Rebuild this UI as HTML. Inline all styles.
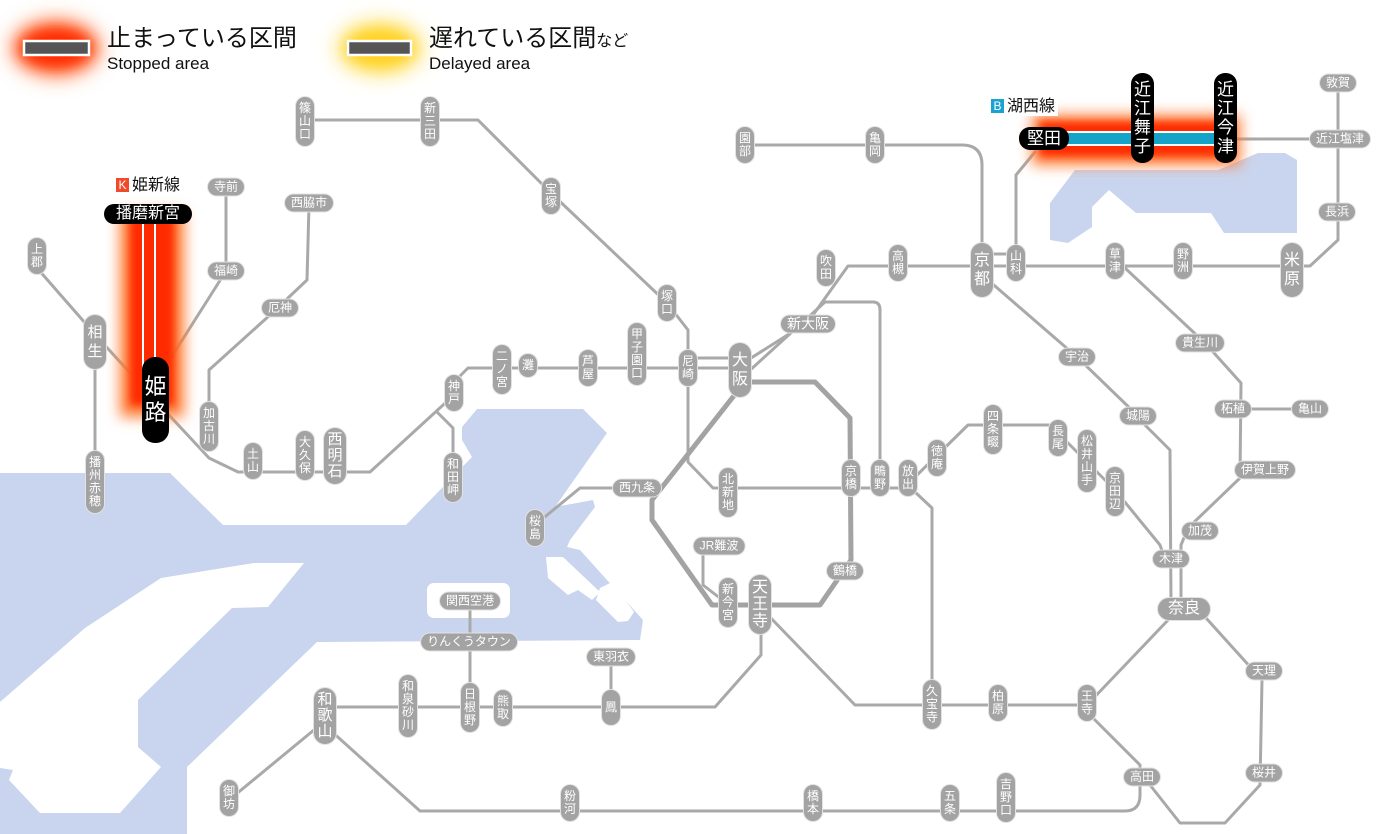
<!DOCTYPE html>
<html><head><meta charset="utf-8">
<style>
html,body{margin:0;padding:0;background:#fff;}
#w{position:relative;width:1400px;height:834px;overflow:hidden;background:#fff;font-family:"Liberation Sans","Noto Sans CJK JP",sans-serif;}
svg{position:absolute;left:0;top:0;}
.s{position:absolute;background:#a3a3a3;color:#fff;font-size:12px;line-height:13px;border-radius:9px;text-align:center;box-shadow:0 0 0 1px #e2e2e2;font-family:"Liberation Sans","Noto Sans CJK JP",sans-serif;}
.v{width:18px;padding:5px 0;transform:translateX(-50%);}
.h{height:17px;line-height:17px;padding:0 6px;transform:translate(-50%,-50%);white-space:nowrap;}
.b{font-size:16px;line-height:19px;width:22px;padding:8px 0;border-radius:11px;}
.hb{font-size:16px;height:22px;line-height:22px;padding:0 10px;border-radius:11px;}
.k{position:absolute;background:#000;color:#fff;font-family:"Liberation Sans","Noto Sans CJK JP",sans-serif;}
.t{position:absolute;font-family:"Liberation Sans","Noto Sans CJK JP",sans-serif;color:#111;white-space:nowrap;}
</style></head><body><div id="w">
<svg width="1400" height="834" viewBox="0 0 1400 834">
<defs>
<filter id="bl" x="-50%" y="-50%" width="200%" height="200%"><feGaussianBlur stdDeviation="7"/></filter>
<filter id="bl2" x="-50%" y="-50%" width="200%" height="200%"><feGaussianBlur stdDeviation="4"/></filter>
<filter id="bl3" x="-50%" y="-50%" width="200%" height="200%"><feGaussianBlur stdDeviation="10"/></filter>
</defs>
<g fill="#c9d5ee">
<polygon points="0,473 170,473 223,525 406,525 472,457 462,440 462,427 477,409 583,409 607,433 555,507 593,500 595,507 570,540 567,547 580,550 643,620 640,640 317,642 187,767 187,834 0,834"/>
<polygon points="1050,203 1075,170 1218,170 1258,153 1285,153 1297,160 1297,233 1224,233 1211,213 1136,213 1109,190 1092,207 1092,227 1068,243 1050,240"/>
</g>
<g fill="#fff">
<polygon points="0,702 85,628 161,578 254,563 304,563 268,607 232,608 138,700 138,747 161,767 120,813 40,813 9,780 13,770 0,768"/>
<rect x="427" y="583" width="83" height="35" rx="7"/>
<polygon points="546,557 563,557 600,592 592,600 578,590 568,595 548,578"/>
<polygon points="600,588 612,582 634,612 628,621 618,622 596,600"/>
</g>
<ellipse cx="56" cy="48" rx="44" ry="28" fill="#ff7a40" filter="url(#bl3)"/>
<ellipse cx="56" cy="48" rx="36" ry="20" fill="#ff2a00" filter="url(#bl)"/>
<ellipse cx="380" cy="48" rx="44" ry="28" fill="#ffe680" filter="url(#bl3)"/>
<ellipse cx="380" cy="48" rx="34" ry="19" fill="#ffd21a" filter="url(#bl)"/>
<rect x="24" y="41" width="65" height="14" fill="#555" stroke="#fff" stroke-width="2.5"/>
<rect x="348" y="41" width="63" height="14" fill="#555" stroke="#fff" stroke-width="2.5"/>
<g fill="none" stroke="#a9a9a9" stroke-width="3" stroke-linejoin="round" stroke-linecap="round">
<path d="M305,120 L478,120 L551,193 L667,303 L688,330 L688,462 L713,488 L915,488"/>
<path d="M37,268 L100,340 L155,400 L209,458 L238,472 L370,472 L454,395 L454,382 L468,368 L740,368"/>
<path d="M688,358 L740,358"/>
<path d="M95,340 L95,480"/>
<path d="M437,412 L453,428 L453,470"/>
<path d="M209,430 L209,370 L270,315 L307,280 L309,205"/>
<path d="M160,375 L226,271 L226,187"/>
<path d="M740,365 L808,322 L848,266 L1310,266 L1338,240 L1338,83"/>
<path d="M748,372 L825,302 L873,302 Q880,302 880,310 L880,488"/>
<path d="M535,525 L580,488 L655,488"/>
<path d="M703,546 L703,585 L725,602"/>
<path d="M761,630 L761,655 L715,707 L325,707"/>
<path d="M470,601 L470,700"/>
<path d="M611,657 L611,700"/>
<path d="M765,612 L855,705 L1087,705 L1170,618"/>
<path d="M1093,718 L1140,765 L1140,780"/>
<path d="M320,725 L229,800"/>
<path d="M330,730 L420,811 L1125,811 Q1140,811 1140,795 L1140,777"/>
<path d="M1150,785 L1180,823 L1225,823 L1260,785 L1262,680 L1206,618"/>
<path d="M1143,423 L1170,450 L1171,605"/>
<path d="M1181,605 L1181,545 L1188,528 L1240,478 L1241,383 L1205,343 L1125,268"/>
<path d="M915,477 L968,425 L1050,425 L1087,462 L1115,490 L1160,545 L1165,559"/>
<path d="M988,280 L1077,357 L1138,416"/>
<path d="M1241,409 L1310,409"/>
<path d="M982,250 L982,165 Q982,145 962,145 L745,145"/>
<path d="M1016,250 L1016,175 L1035,152"/>
<path d="M1230,139 L1340,139"/>
<path d="M982,254 L1016,254"/>
<path d="M915,492 L932,508 L932,690"/>
</g>
<path d="M740,382 L815,382 L850,418 L851,560 L820,605 L712,605 L652,520 L652,500 L740,388" fill="none" stroke="#a3a3a3" stroke-width="5" stroke-linejoin="round"/>
<rect x="120" y="212" width="64" height="205" fill="#ff7a30" filter="url(#bl)"/>
<rect x="130" y="215" width="44" height="190" fill="#ff2a00" filter="url(#bl2)"/>
<line x1="143" y1="222" x2="143" y2="370" stroke="#fff" stroke-width="2"/>
<line x1="155" y1="222" x2="155" y2="370" stroke="#fff" stroke-width="2"/>
<rect x="1032" y="115" width="208" height="50" fill="#ff7a30" filter="url(#bl)"/>
<rect x="1040" y="122" width="192" height="34" fill="#ff2a00" filter="url(#bl2)"/>
<rect x="1050" y="131" width="180" height="15" fill="#fff"/>
<rect x="1050" y="133" width="180" height="11" fill="#15a3c8"/>
</svg>

<div class="t" style="left:107px;top:25px;font-size:24px;line-height:28px;">止まっている区間</div>
<div class="t" style="left:107px;top:54px;font-size:17px;line-height:20px;">Stopped area</div>
<div class="t" style="left:429px;top:25px;font-size:24px;line-height:28px;">遅れている区間<span style="font-size:16px">など</span></div>
<div class="t" style="left:429px;top:54px;font-size:17px;line-height:20px;">Delayed area</div>

<div class="t" style="left:113px;top:176px;font-size:16px;line-height:19px;background:#fff;padding:0 3px;"><span style="display:inline-block;background:#f04a2a;color:#fff;font-size:12px;width:13px;height:14px;line-height:14px;text-align:center;vertical-align:1px;margin-right:3px;">K</span>姫新線</div>
<div class="t" style="left:988px;top:97px;font-size:16px;line-height:19px;background:#fff;padding:0 3px;"><span style="display:inline-block;background:#1aa3d2;color:#fff;font-size:12px;width:13px;height:14px;line-height:14px;text-align:center;vertical-align:1px;margin-right:3px;">B</span>湖西線</div>

<div class="k" style="left:104px;top:204px;width:88px;height:20px;line-height:20px;border-radius:10px;font-size:16px;text-align:center;">播磨新宮</div>
<div class="k" style="left:142px;top:357px;width:27px;height:86px;border-radius:13px;font-size:22px;line-height:26px;text-align:center;padding-top:17px;box-sizing:border-box;">姫<br>路</div>
<div class="k" style="left:1019px;top:127px;width:50px;height:23px;line-height:23px;border-radius:11px;font-size:17px;text-align:center;">堅田</div>
<div class="k" style="left:1131px;top:73px;width:23px;height:90px;border-radius:11px;font-size:17px;line-height:19px;text-align:center;padding-top:7px;box-sizing:border-box;">近<br>江<br>舞<br>子</div>
<div class="k" style="left:1214px;top:73px;width:23px;height:90px;border-radius:11px;font-size:17px;line-height:19px;text-align:center;padding-top:7px;box-sizing:border-box;">近<br>江<br>今<br>津</div>

<div class="s v" style="left:305px;top:97px">篠<br>山<br>口</div>
<div class="s v" style="left:430px;top:97px">新<br>三<br>田</div>
<div class="s v" style="left:551px;top:178px">宝<br>塚</div>
<div class="s v" style="left:745px;top:127px">園<br>部</div>
<div class="s v" style="left:875px;top:127px">亀<br>岡</div>
<div class="s v" style="left:826px;top:250px">吹<br>田</div>
<div class="s v" style="left:898px;top:245px">高<br>槻</div>
<div class="s v b" style="left:982px;top:243px">京<br>都</div>
<div class="s v" style="left:1016px;top:245px">山<br>科</div>
<div class="s v" style="left:1115px;top:243px">草<br>津</div>
<div class="s v" style="left:1183px;top:243px">野<br>洲</div>
<div class="s v b" style="left:1292px;top:243px">米<br>原</div>
<div class="s v" style="left:37px;top:238px">上<br>郡</div>
<div class="s v b" style="left:95px;top:315px;font-size:15px">相<br>生</div>
<div class="s v" style="left:95px;top:451px">播<br>州<br>赤<br>穂</div>
<div class="s v" style="left:209px;top:402px">加<br>古<br>川</div>
<div class="s v" style="left:253px;top:443px">土<br>山</div>
<div class="s v" style="left:305px;top:431px">大<br>久<br>保</div>
<div class="s v b" style="left:335px;top:428px;font-size:15px;line-height:16px;padding:4px 0">西<br>明<br>石</div>
<div class="s v" style="left:454px;top:375px">神<br>戸</div>
<div class="s v" style="left:502px;top:345px">二<br>ノ<br>宮</div>
<div class="s v" style="left:528px;top:354px">灘</div>
<div class="s v" style="left:588px;top:350px">芦<br>屋</div>
<div class="s v" style="left:637px;top:323px">甲<br>子<br>園<br>口</div>
<div class="s v" style="left:688px;top:350px">尼<br>崎</div>
<div class="s v b" style="left:740px;top:343px">大<br>阪</div>
<div class="s v" style="left:667px;top:285px">塚<br>口</div>
<div class="s v" style="left:453px;top:453px">和<br>田<br>岬</div>
<div class="s v" style="left:535px;top:510px">桜<br>島</div>
<div class="s v" style="left:728px;top:468px">北<br>新<br>地</div>
<div class="s v" style="left:851px;top:460px">京<br>橋</div>
<div class="s v" style="left:880px;top:460px">鴫<br>野</div>
<div class="s v" style="left:908px;top:460px">放<br>出</div>
<div class="s v" style="left:937px;top:440px">徳<br>庵</div>
<div class="s v" style="left:993px;top:405px">四<br>条<br>畷</div>
<div class="s v" style="left:1058px;top:420px">長<br>尾</div>
<div class="s v" style="left:1087px;top:430px">松<br>井<br>山<br>手</div>
<div class="s v" style="left:1115px;top:467px">京<br>田<br>辺</div>
<div class="s v" style="left:728px;top:578px">新<br>今<br>宮</div>
<div class="s v b" style="left:760px;top:575px;line-height:17px;padding:4px 0">天<br>王<br>寺</div>
<div class="s v" style="left:932px;top:680px">久<br>宝<br>寺</div>
<div class="s v" style="left:998px;top:685px">柏<br>原</div>
<div class="s v" style="left:1087px;top:685px">王<br>寺</div>
<div class="s v b" style="left:325px;top:688px;font-size:15px;line-height:16px;padding:4px 0">和<br>歌<br>山</div>
<div class="s v" style="left:408px;top:675px">和<br>泉<br>砂<br>川</div>
<div class="s v" style="left:470px;top:683px">日<br>根<br>野</div>
<div class="s v" style="left:503px;top:690px">熊<br>取</div>
<div class="s v" style="left:611px;top:690px;padding:11px 0">鳳</div>
<div class="s v" style="left:229px;top:780px">御<br>坊</div>
<div class="s v" style="left:570px;top:785px">粉<br>河</div>
<div class="s v" style="left:813px;top:785px">橋<br>本</div>
<div class="s v" style="left:950px;top:785px">五<br>条</div>
<div class="s v" style="left:1006px;top:773px">吉<br>野<br>口</div>

<div class="s h" style="left:226px;top:187px">寺前</div>
<div class="s h" style="left:309px;top:203px">西脇市</div>
<div class="s h" style="left:226px;top:271px">福崎</div>
<div class="s h" style="left:280px;top:308px">厄神</div>
<div class="s h" style="left:808px;top:324px;font-size:14px">新大阪</div>
<div class="s h" style="left:637px;top:488px">西九条</div>
<div class="s h" style="left:719px;top:546px">JR難波</div>
<div class="s h" style="left:845px;top:571px">鶴橋</div>
<div class="s h" style="left:470px;top:601px">関西空港</div>
<div class="s h" style="left:469px;top:642px">りんくうタウン</div>
<div class="s h" style="left:611px;top:657px">東羽衣</div>
<div class="s h" style="left:1077px;top:357px">宇治</div>
<div class="s h" style="left:1138px;top:416px">城陽</div>
<div class="s h" style="left:1200px;top:343px">貴生川</div>
<div class="s h" style="left:1233px;top:409px">柘植</div>
<div class="s h" style="left:1310px;top:409px">亀山</div>
<div class="s h" style="left:1265px;top:470px">伊賀上野</div>
<div class="s h" style="left:1200px;top:531px">加茂</div>
<div class="s h" style="left:1171px;top:559px">木津</div>
<div class="s h hb" style="left:1184px;top:609px">奈良</div>
<div class="s h" style="left:1264px;top:671px">天理</div>
<div class="s h" style="left:1142px;top:777px">高田</div>
<div class="s h" style="left:1264px;top:773px">桜井</div>
<div class="s h" style="left:1338px;top:83px">敦賀</div>
<div class="s h" style="left:1340px;top:139px">近江塩津</div>
<div class="s h" style="left:1337px;top:212px">長浜</div>
</div></body></html>
